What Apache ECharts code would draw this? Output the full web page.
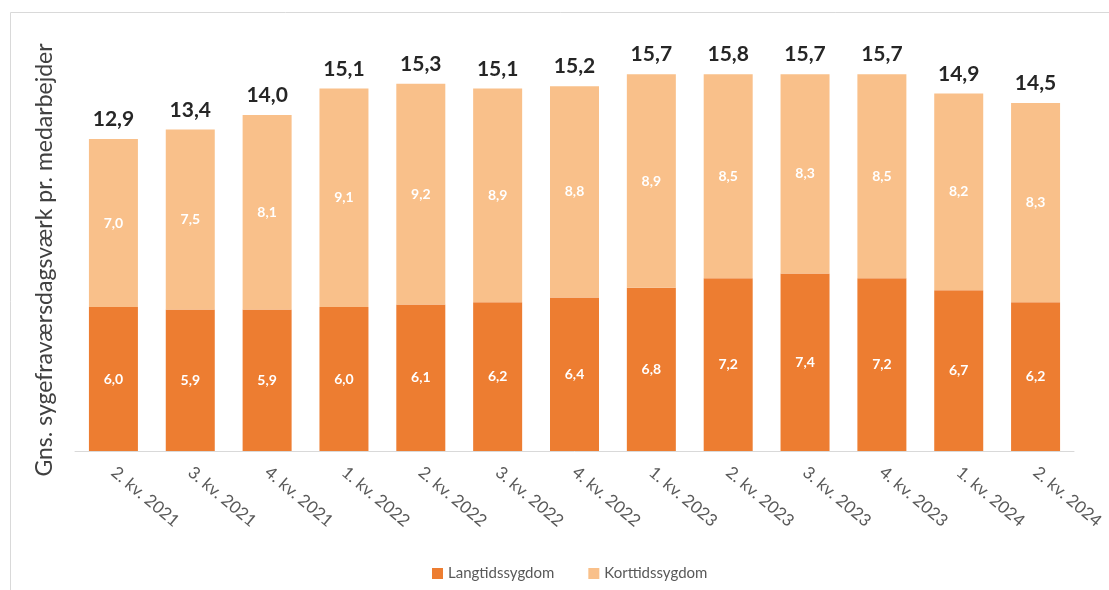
<!DOCTYPE html>
<html>
<head>
<meta charset="utf-8">
<script src="https://cdn.jsdelivr.net/npm/echarts@6/dist/echarts.min.js"></script>
<style>
	html, body { margin: 0; padding: 0; background: #fff; }
	#chart { width: 1109px; height: 590px; }
</style>
</head>
<body>
<div id="chart"></div>
<script>
// kvartaler
var quarters = [ '2. kv. 2021', '3. kv. 2021', '4. kv. 2021', '1. kv. 2022',
		'2. kv. 2022', '3. kv. 2022', '4. kv. 2022', '1. kv. 2023',
		'2. kv. 2023', '3. kv. 2023', '4. kv. 2023', '1. kv. 2024',
		'2. kv. 2024' ];
var langtid = [ 6.0, 5.9, 5.9, 6.0, 6.1, 6.2, 6.4, 6.8, 7.2, 7.4, 7.2, 6.7, 6.2 ];
var korttid = [ 7.0, 7.5, 8.1, 9.1, 9.2, 8.9, 8.8, 8.9, 8.5, 8.3, 8.5, 8.2, 8.3 ];
var totals = [ 12.9, 13.4, 14.0, 15.1, 15.3, 15.1, 15.2, 15.7, 15.8, 15.7, 15.7, 14.9, 14.5 ];

var font = 'Lato, "Open Sans", sans-serif';

function fmt(v) {
	return v.toFixed(1).replace('.', ',');
}

var chart = echarts.init(document.getElementById('chart'));
var option = {
	animation : false,
	textStyle : {
		fontFamily : font
	},
	graphic : [ {
		type : 'rect',
		shape : { x : 10.5, y : 12.5, width : 1120, height : 600 },
		style : { fill : 'none', stroke : '#d9d9d9', lineWidth : 1 }
	}, {
		type : 'text',
		x : 45,
		y : 260,
		rotation : Math.PI / 2,
		style : {
			text : 'Gns. sygefraværsdagsværk pr. medarbejder',
			fontFamily : font,
			fontSize : 23,
			fill : '#404040',
			align : 'center',
			verticalAlign : 'middle'
		}
	} ],
	legend : {
		left : 427,
		top : 561,
		itemWidth : 11,
		itemHeight : 11,
		itemGap : 34,
		icon : 'rect',
		textStyle : {
			color : '#595959',
			fontSize : 15,
			fontFamily : font
		},
		data : [ 'Langtidssygdom', 'Korttidssygdom' ]
	},
	grid : {
		left : 75,
		right : 35,
		top : 19,
		bottom : 139
	},
	xAxis : [ {
		type : 'category',
		data : quarters,
		axisLine : { lineStyle : { color : '#d9d9d9' } },
		axisTick : { show : false },
		axisLabel : {
			rotate : -40,
			margin : 19,
			color : '#595959',
			fontSize : 17,
			fontFamily : font
		}
	} ],
	yAxis : [ {
		type : 'value',
		min : 0,
		max : 18,
		show : false
	} ],
	series : [ {
		name : 'Langtidssygdom',
		type : 'bar',
		stack : 'total',
		barWidth : 49,
		data : langtid,
		itemStyle : { color : '#ED7D31' },
		label : {
			show : true,
			position : 'inside',
			color : '#fff',
			fontSize : 14,
			fontWeight : 'bold',
			fontFamily : font,
			formatter : function(p) { return fmt(p.value); }
		}
	}, {
		name : 'Korttidssygdom',
		type : 'bar',
		stack : 'total',
		barWidth : 49,
		data : korttid,
		itemStyle : { color : '#F9C08A' },
		label : {
			show : true,
			position : 'inside',
			color : '#fff',
			fontSize : 14,
			fontWeight : 'bold',
			fontFamily : font,
			formatter : function(p) { return fmt(p.value); }
		}
	}, {
		// totaler over soejlerne
		name : 'Total',
		type : 'bar',
		stack : 'total',
		barWidth : 49,
		data : korttid.map(function() { return 0; }),
		itemStyle : { color : 'transparent' },
		label : {
			show : true,
			position : 'top',
			distance : 9,
			color : '#262626',
			fontSize : 21,
			fontWeight : 'bold',
			fontFamily : font,
			formatter : function(p) { return fmt(totals[p.dataIndex]); }
		}
	} ]
};
chart.setOption(option);
</script>
</body>
</html>
